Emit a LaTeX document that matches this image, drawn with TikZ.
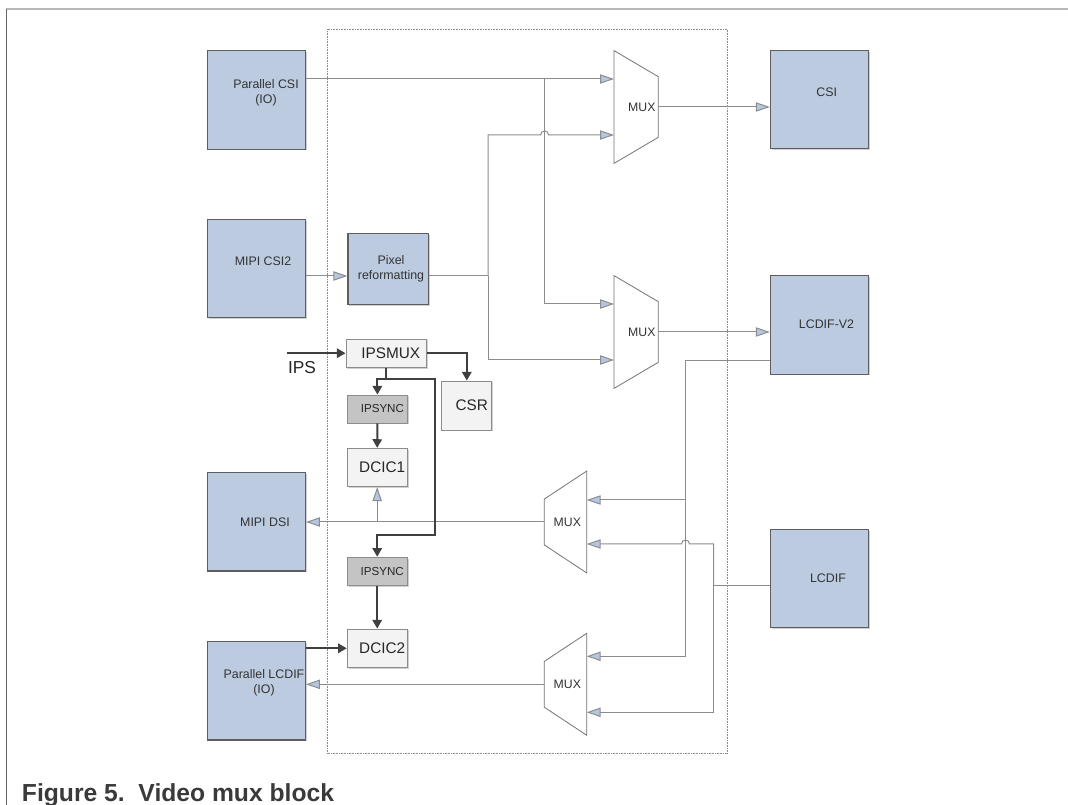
\documentclass[tikz,border=0pt]{standalone}
\usepackage{fontspec}
\setmainfont{Liberation Sans}
\usetikzlibrary{arrows.meta,calc,shadows}
\definecolor{boxblue}{HTML}{BCCBE0}
\definecolor{tipblue}{HTML}{B4C6E0}
\definecolor{lngray}{HTML}{8C8C8C}
\definecolor{bordergray}{HTML}{5E5E5E}
\definecolor{lightfill}{HTML}{F3F3F3}
\definecolor{syncfill}{HTML}{C4C4C4}
\definecolor{darkln}{HTML}{404040}
\definecolor{txt}{HTML}{333333}
\definecolor{capgray}{HTML}{3A3A3A}
\definecolor{framegray}{HTML}{B8B8B8}
\begin{document}
\begin{tikzpicture}[x=0.75pt,y=-0.75pt,
  shad/.style={drop shadow={shadow xshift=1pt,shadow yshift=-1pt,fill=black!40,opacity=0.45}},
  bluebox/.style={draw=bordergray, line width=0.8pt, fill=boxblue, minimum width=73.7pt, minimum height=73.6pt, inner sep=0pt, shad},
  bluelbl/.style={text=txt, font=\fontsize{9.3}{11.25}\selectfont, align=center, inner sep=0pt},
  litebox/.style={draw=lngray, line width=0.6pt, fill=lightfill, inner sep=0pt, text=black!85, font=\fontsize{11.5}{13}\selectfont, shad},
  syncbox/.style={litebox, fill=syncfill, font=\fontsize{8.7}{10}\selectfont},
  muxnode/.style={inner sep=0pt, text=txt, font=\fontsize{9.2}{10}\selectfont},
  muxshape/.style={draw=black!55, line width=0.6pt, fill=white},
  ln/.style={draw=lngray, line width=0.75pt},
  arr/.style={ln, -{Triangle[length=10.5pt,width=7pt,fill=tipblue]}},
  dk/.style={draw=darkln, line width=1.5pt},
  dkarr/.style={dk, -{Triangle[length=6.5pt,width=7pt]}},
  cont/.style={draw=black!45, line width=0.6pt, dash pattern=on 0.5pt off 0.7pt}
]
\useasboundingbox (0,0) rectangle (1068,805);
% frame
\draw[framegray, line width=1.8pt] (6,9) -- (1068,9);
\draw[black!60, line width=0.9pt] (6.5,9) -- (6.5,805);
% container
\draw[cont] (327,29.5) rectangle (727.7,753.5);

% blue boxes
\node[bluebox] (pcsi) at (256.3,100) {};
\node[bluebox] (mcsi2) at (256.3,268.8) {};
\node[bluebox] (mdsi) at (256.3,521.9) {};
\node[bluebox] (plcdif) at (256.3,690.9) {};
\node[bluebox] (csi) at (819.5,99.9) {};
\node[bluebox] (lcdv2) at (819.5,325) {};
\node[bluebox] (lcdif) at (819.5,578.4) {};
\node[bluebox, minimum width=60.5pt, minimum height=53.25pt] (pix) at (388.3,268.8) {};

\node[bluelbl] (pcsi-l) at (266,93) {Parallel CSI\\(IO)};
\node[bluelbl] (mcsi2-l) at (263,261) {MIPI CSI2};
\node[bluelbl] (mdsi-l) at (265,522) {MIPI DSI};
\node[bluelbl] (plcdif-l) at (264,683) {Parallel LCDIF\\(IO)};
\node[bluelbl] (csi-l) at (826.7,92.3) {CSI};
\node[bluelbl] (lcdv2-l) at (826.5,324.3) {LCDIF-V2};
\node[bluelbl] (lcdif-l) at (828,578) {LCDIF};
\node[bluelbl] (pix-l) at (391,268.5) {Pixel\\reformatting};

% light boxes
\node[litebox, minimum width=60.5pt, minimum height=21.2pt] (ipsmux) at (386.3,353.2) {\hspace*{6.75pt}IPSMUX};
\node[syncbox, minimum width=45.2pt, minimum height=21pt] (ipsync1) at (377.4,409) {\hspace*{7.5pt}IPSYNC};
\node[litebox, minimum width=45pt, minimum height=28.8pt] (dcic1) at (377.2,467.5) {\hspace*{7.5pt}DCIC1};
\node[syncbox, minimum width=45pt, minimum height=21pt] (ipsync2) at (377.2,571.2) {\hspace*{7.5pt}IPSYNC};
\node[litebox, minimum width=45pt, minimum height=29pt] (dcic2) at (377.2,648.3) {\hspace*{7.5pt}DCIC2};
\node[litebox, minimum width=37.6pt, minimum height=36.75pt] (csr) at (466.8,405.5) {\hspace*{7.5pt}CSR};

% muxes
\node[muxnode, minimum width=32.7pt, minimum height=84.2pt] (m1) at (636.1,107) {};
\node[muxnode, minimum width=32.7pt, minimum height=84.2pt] (m2) at (636.1,332) {};
\node[muxnode, minimum width=31.35pt, minimum height=76pt] (m3) at (565.5,522) {};
\node[muxnode, minimum width=31.35pt, minimum height=76pt] (m4) at (565.5,684.3) {};
\draw[muxshape] (m1.north west) -- ($(m1.north east)+(0,26)$) -- ($(m1.south east)+(0,-26)$) -- (m1.south west) -- cycle;
\draw[muxshape] (m2.north west) -- ($(m2.north east)+(0,26)$) -- ($(m2.south east)+(0,-26)$) -- (m2.south west) -- cycle;
\draw[muxshape] (m3.north east) -- (m3.south east) -- ($(m3.south west)+(0,-28)$) -- ($(m3.north west)+(0,28)$) -- cycle;
\draw[muxshape] (m4.north east) -- (m4.south east) -- ($(m4.south west)+(0,-28)$) -- ($(m4.north west)+(0,28)$) -- cycle;
\node[muxnode] (m1-l) at (641.8,107) {MUX};
\node[muxnode] (m2-l) at (641.8,332) {MUX};
\node[muxnode] (m3-l) at (567.3,522) {MUX};
\node[muxnode] (m4-l) at (567.3,684.3) {MUX};

% coordinates
\coordinate (m1a) at ($(m1.west)+(0,-28)$);
\coordinate (m1b) at ($(m1.west)+(0,28)$);
\coordinate (m2a) at ($(m2.west)+(0,-28)$);
\coordinate (m2b) at ($(m2.west)+(0,28)$);
\coordinate (m3a) at ($(m3.east)+(0,-22)$);
\coordinate (m3b) at ($(m3.east)+(0,22)$);
\coordinate (m4a) at ($(m4.east)+(0,-28)$);
\coordinate (m4b) at ($(m4.east)+(0,28)$);
\coordinate (vA) at (544.6,0);
\coordinate (vB) at (488.2,0);
\coordinate (vC) at (685.5,0);
\coordinate (vD) at (713.5,0);
\coordinate (vE) at (435,0);
\coordinate (pxo) at ([yshift=-5.4pt]pix.east);
\coordinate (lv) at ([yshift=-26.8pt]lcdv2.west);
\coordinate (lf) at ([yshift=-5.3pt]lcdif.west);

% gray connectors
\draw[arr] (pcsi.east |- m1a) -- (m1a);
\draw[arr] (vA |- m1a) -- (vA |- m2a) -- (m2a);
\draw[arr] (mcsi2.east |- pxo) -- (pix.west |- pxo);
\draw[ln] (pxo) -- (vB |- pxo);
\draw[arr] (vB |- pxo) -- (vB |- m1b) -- ($(vA |- m1b)+(-4,0)$) .. controls +(0,-5.3) and +(0,-5.3) .. ($(vA |- m1b)+(4,0)$) -- (m1b);
\draw[arr] (vB |- pxo) -- (vB |- m2b) -- (m2b);
\draw[arr] (m1.east) -- (csi.west |- m1.east);
\draw[arr] (m2.east) -- (lcdv2.west |- m2.east);
\draw[arr] (lv) -- (vC |- lv) -- (vC |- m4a) -- (m4a);
\draw[arr] (vC |- m3a) -- (m3a);
\draw[ln] (lf) -- (vD |- lf);
\draw[arr] (vD |- lf) -- (vD |- m3b) -- ($(vC |- m3b)+(4,0)$) .. controls +(0,-5.3) and +(0,-5.3) .. ($(vC |- m3b)+(-4,0)$) -- (m3b);
\draw[arr] (vD |- lf) -- (vD |- m4b) -- (m4b);
\draw[arr] (m3.west) -- (mdsi.east |- m3.west);
\draw[arr] (dcic1.south |- m3.west) -- (dcic1.south);
\draw[arr] (m4.west) -- (plcdif.east |- m4.west);

% dark connectors
\coordinate (ipsin) at (287,353.2);
\coordinate (j1) at ($(ipsmux.south)+(0,11)$);
\coordinate (j3) at (435,535);
\node[text=black!85, font=\fontsize{13}{15}\selectfont, inner sep=0pt] (ips-l) at (302,367.5) {IPS};
\draw[dkarr] (ipsin) -- (ipsmux.west);
\draw[dkarr] (ipsmux.east) -| (csr.north);
\draw[dk] (ipsmux.south) -- (j1);
\draw[dkarr] (j1) -| (ipsync1.north);
\draw[dkarr] (j1) -- (vE |- j1) -- (j3) -| (ipsync2.north);
\draw[dkarr] (ipsync1.south) -- (dcic1.north);
\draw[dkarr] (ipsync2.south) -- (dcic2.north);
\draw[dkarr] (plcdif.east |- dcic2.west) -- (dcic2.west);

% caption
\node[anchor=base west, inner sep=0pt, text=capgray, font=\fontsize{18.5}{20}\selectfont\bfseries] (cap) at (21.7,801.5) {Figure 5.\ \ Video mux block};
\end{tikzpicture}
\end{document}
